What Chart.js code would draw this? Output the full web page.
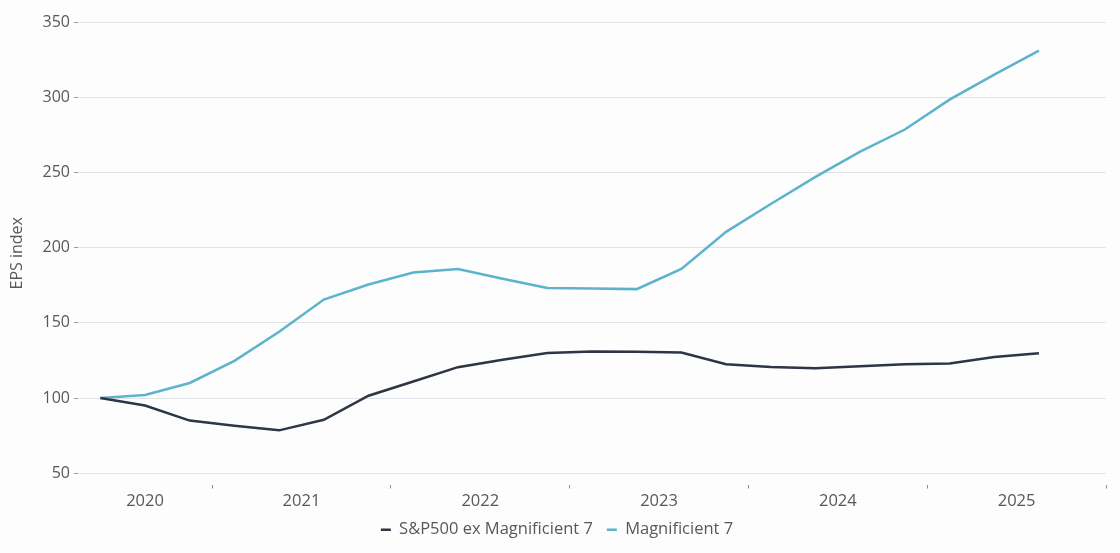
<!DOCTYPE html>
<html>
<head>
<meta charset="utf-8">
<script src="https://cdn.jsdelivr.net/npm/chart.js@4/dist/chart.umd.min.js"></script>
<style>
  html, body { margin: 0; padding: 0; background: #fdfdfd; }
  #wrap { width: 1120px; height: 553px; position: relative; }
</style>
</head>
<body>
<div id="wrap"><canvas id="c"></canvas></div>
<script>
// Quarterly observations (Q2 2020 – Q3 2025)
const quarters = ['Q2 2020','Q3 2020','Q4 2020',
  'Q1 2021','Q2 2021','Q3 2021','Q4 2021',
  'Q1 2022','Q2 2022','Q3 2022','Q4 2022',
  'Q1 2023','Q2 2023','Q3 2023','Q4 2023',
  'Q1 2024','Q2 2024','Q3 2024','Q4 2024',
  'Q1 2025','Q2 2025','Q3 2025'];
const spxExMag7 = [100, 95, 85, 81.5, 78.5, 85.5, 101.5, 111, 120.5, 125.5, 130, 131, 130.8, 130.3,
  122.5, 120.7, 119.8, 121.2, 122.4, 123, 127.2, 129.8];
const mag7 = [100, 102, 110, 124.7, 144, 165.5, 175.5, 183.5, 185.8, 179.3, 173.1, 172.8, 172.4, 185.8,
  210.5, 229, 247, 263.8, 278.5, 298.4, 315, 331];
const years = ['2020','2021','2022','2023','2024','2025'];
const yTicks = [50, 100, 150, 200, 250, 300, 350];

const FONT = "'Open Sans', 'Noto Sans', sans-serif";
const TXT = '#585858';
const xMin = -0.5, xMax = quarters.length + 0.5;

function pts(arr) { return arr.map((v, i) => ({ x: i, y: v })); }
function yearOf(i) { return parseInt(quarters[i].slice(3), 10); }
// year boundaries and clipped year centres, derived from the quarter list
const firstYear = yearOf(0);
const boundaries = [];
const centres = [];
years.forEach((yr) => {
  const y = parseInt(yr, 10);
  const startQ = 4 * (y - firstYear) - 1.5;  // Q2 2020 is index 0, so Q1 2020 would be -1
  const start = Math.max(xMin, startQ);
  const end = Math.min(xMax, startQ + 4);
  boundaries.push(end);
  centres.push({ v: (start + end) / 2, label: yr });
});

new Chart(document.getElementById('c'), {
  type: 'line',
  data: {
    datasets: [
      { label: 'S&P500 ex Magnificient 7', data: pts(spxExMag7), borderColor: '#2c3644', backgroundColor: '#2c3644',
        borderWidth: 2.5, pointRadius: 0, pointStyle: 'line', tension: 0, xAxisID: 'x', yAxisID: 'y' },
      { label: 'Magnificient 7', data: pts(mag7), borderColor: '#5cb3cb', backgroundColor: '#5cb3cb',
        borderWidth: 2.5, pointRadius: 0, pointStyle: 'line', tension: 0, xAxisID: 'x', yAxisID: 'y' }
    ]
  },
  options: {
    responsive: true,
    maintainAspectRatio: false,
    animation: false,
    layout: { padding: { left: 8, right: 14, top: 22, bottom: 5 } },
    plugins: {
      legend: {
        position: 'bottom',
        labels: {
          usePointStyle: true, pointStyleWidth: 10, boxHeight: 10, padding: 14,
          color: TXT, font: { family: FONT, size: 16.5 }
        }
      },
      tooltip: { enabled: false }
    },
    scales: {
      x: {
        type: 'linear', position: 'bottom', min: xMin, max: xMax,
        afterBuildTicks: s => { s.ticks = boundaries.map(v => ({ value: v })); },
        grid: { drawOnChartArea: false, drawTicks: true, tickLength: 4, color: '#8a8a8a', lineWidth: 1 },
        border: { display: false },
        ticks: { display: false },
        afterFit: s => { s.height = 5; }
      },
      x2: {
        type: 'linear', position: 'bottom', min: xMin, max: xMax,
        afterBuildTicks: s => { s.ticks = centres.map(c => ({ value: c.v })); },
        grid: { display: false, drawTicks: false },
        border: { display: false },
        ticks: {
          color: TXT, font: { family: FONT, size: 16.5 }, padding: 2, maxRotation: 0, autoSkip: false,
          callback: (v, i) => centres[i] ? centres[i].label : ''
        },
        afterFit: s => { s.height = 18; }
      },
      y: {
        min: 42.5, max: 350,
        afterBuildTicks: s => { s.ticks = yTicks.map(v => ({ value: v })); },
        grid: { color: '#e1e4e6', lineWidth: 1, drawTicks: true, tickLength: 4, tickColor: '#9a9a9a' },
        border: { display: false },
        ticks: { color: TXT, font: { family: FONT, size: 16 }, padding: 4 },
        title: { display: true, text: 'EPS index', color: TXT, font: { family: FONT, size: 16 }, padding: { top: 0, bottom: 0 } },
        afterFit: s => { s.width = 70; }
      }
    }
  }
});
</script>
</body>
</html>
